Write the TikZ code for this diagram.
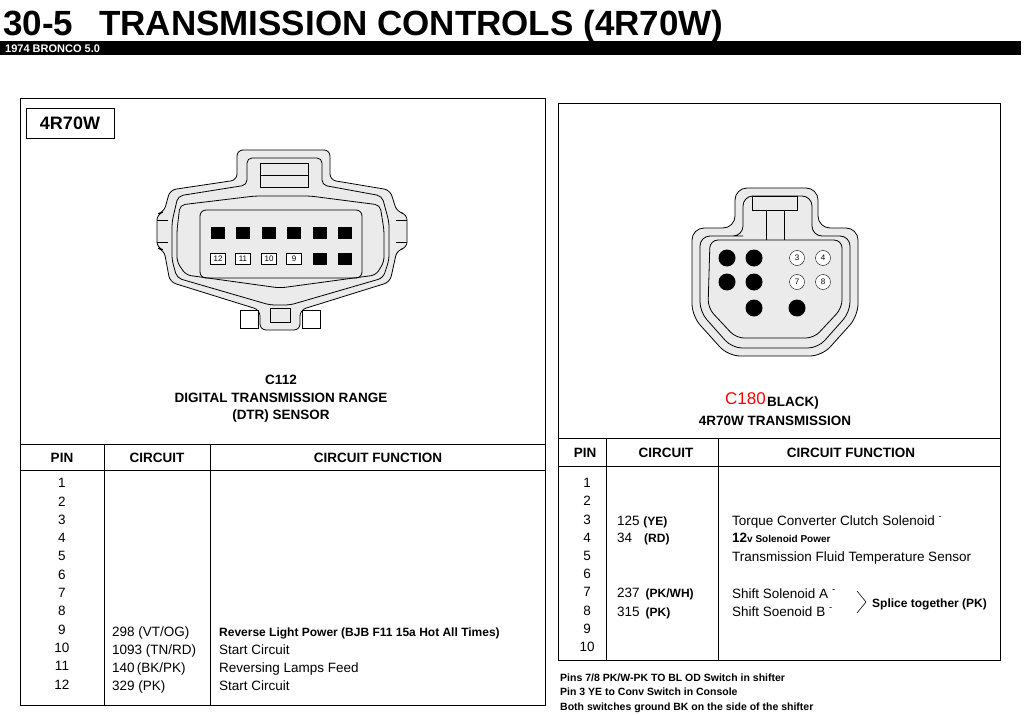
\documentclass[tikz,border=0pt]{standalone}
\usepackage{fontspec}
\setmainfont{Liberation Sans}
\begin{document}
\begin{tikzpicture}[x=1pt,y=-1pt,
  ln/.style={line width=0.8pt},
  body/.style={draw,fill=black!8,line width=0.8pt,rounded corners=6pt},
  sq/.style={fill=black,minimum width=14pt,minimum height=12pt,inner sep=0pt},
  osq/.style={draw,fill=white,minimum width=15pt,minimum height=11pt,inner sep=0pt,font=\fontsize{8}{8}\selectfont},
  dot/.style={circle,fill=black,minimum size=17pt,inner sep=0pt},
  odot/.style={circle,draw,fill=white,minimum size=15pt,inner sep=0pt,font=\fontsize{8}{8}\selectfont},
  tx/.style={font=\fontsize{13.5}{13.5}\selectfont,anchor=base west,inner sep=0pt},
  hd/.style={font=\bfseries\fontsize{13.5}{13.5}\selectfont}]
\useasboundingbox (0,0) rectangle (1024,714);
\fill[white] (0,0) rectangle (1024,714);
% title
\node[anchor=base west,inner sep=0pt,font=\bfseries\fontsize{35}{35}\selectfont] (title) at (3,36) {30-5\hspace{26pt}TRANSMISSION CONTROLS (4R70W)};
\fill (0,41) rectangle (1021,55);
\node[anchor=base west,inner sep=0pt,text=white,font=\bfseries\fontsize{11}{11}\selectfont] (sub) at (5,52.5) {1974 BRONCO 5.0};
% left panel
\draw[ln] (20,98) rectangle (545,705);
\draw[ln] (20,444) -- (545,444) (20,470) -- (545,470);
\draw[ln] (104,444) -- (104,705) (210,444) -- (210,705);
\node[draw,ln,minimum width=88pt,minimum height=30pt,font=\bfseries\fontsize{18}{18}\selectfont] (lbl) at (70,123) {4R70W};
% left connector
\draw[body] (237,180) -- (237,150) -- (330,150) -- (330,180) -- (390,190) -- (397,212) -- (407,214) -- (407,248) -- (397,250) -- (390,282) -- (300,310) -- (300,330) -- (260,330) -- (260,310) -- (170,282) -- (164,250) -- (157,248) -- (157,214) -- (164,212) -- (170,190) -- cycle;
\draw[ln,rounded corners=5pt] (247,185) -- (247,158) -- (322,158) -- (322,185) -- (382,196) -- (389,222) -- (389,260) -- (383,278) -- (290,305) -- (270,305) -- (177,278) -- (172,260) -- (172,222) -- (178,196) -- cycle;
\draw[ln,rounded corners=5pt] (180,205) -- (255,196) -- (310,196) -- (380,205) -- (384,230) -- (384,262) -- (376,275) -- (280,288) -- (186,275) -- (177,262) -- (177,230) -- cycle;
\draw[ln,rounded corners=6pt] (200,210) rectangle (362,278);
\draw[ln] (260,163) rectangle (308,187) (260,175) -- (308,175);
\draw[ln] (240,310) rectangle (258,328) (302,310) rectangle (320,328) (270,308) rectangle (290,322);
\draw[ln] (157,220) -- (168,220) (157,242) -- (168,242) (407,220) -- (396,220) (407,242) -- (396,242);
\foreach \x in {218,243,269,294,320,345} \node[sq] at (\x,233) {};
\node[osq] (p12) at (218,259) {12};
\node[osq] (p11) at (243,259) {11};
\node[osq] (p10) at (269,259) {10};
\node[osq] (p9) at (294,259) {9};
\node[sq] at (320,259) {}; \node[sq] at (345,259) {};
\node[hd] (c112) at (281,380) {C112};
\node[hd] (c112b) at (281,398) {DIGITAL TRANSMISSION RANGE};
\node[hd] (c112c) at (281,416) {(DTR) SENSOR};
\node[hd] (h1) at (62,458) {PIN};
\node[hd] (h2) at (157,458) {CIRCUIT};
\node[hd] (h3) at (378,458) {CIRCUIT FUNCTION};
\foreach \i in {1,...,12} \node[font=\fontsize{13.5}{13.5}\selectfont] at (62,{483+(\i-1)*18.3}) {\i};
\node[tx] at (112,636) {298 (VT/OG)};
\node[tx] at (112,654) {1093 (TN/RD)};
\node[tx] at (112,672) {140\,(BK/PK)};
\node[tx] at (112,690) {329 (PK)};
\node[tx,font=\bfseries\fontsize{12}{12}\selectfont] at (219,636) {Reverse Light Power (BJB F11 15a Hot All Times)};
\node[tx] at (219,654) {Start Circuit};
\node[tx] at (219,672) {Reversing Lamps Feed};
\node[tx] at (219,690) {Start Circuit};
% right panel
\draw[ln] (558,103) rectangle (1000,660);
\draw[ln] (558,438) -- (1000,438) (558,466) -- (1000,466);
\draw[ln] (606,438) -- (606,660) (718,438) -- (718,660);
\draw[body,rounded corners=12pt] (735,228) -- (735,188) -- (818,188) -- (818,228) -- (858,228) -- (858,316) -- (822,356) -- (728,356) -- (692,316) -- (692,228) -- cycle;
\draw[ln,rounded corners=10pt] (733,236) -- (743,236) -- (743,196) -- (812,196) -- (812,236) -- (850,236) -- (850,312) -- (818,348) -- (732,348) -- (700,312) -- (700,236) -- cycle;
\draw[ln,rounded corners=8pt] (710,240) -- (842,240) -- (842,308) -- (814,338) -- (736,338) -- (708,308) -- cycle;
\draw[ln] (752,196) rectangle (797,210) (766,210) -- (766,240) (784,210) -- (784,240);
\node[dot] at (727,258) {}; \node[dot] at (754,258) {};
\node[dot] at (727,282) {}; \node[dot] at (754,282) {};
\node[dot] at (754,308) {}; \node[dot] at (797,308) {};
\node[odot] (r3) at (797,258) {3}; \node[odot] (r4) at (823,258) {4};
\node[odot] (r7) at (797,282) {7}; \node[odot] (r8) at (823,282) {8};
\node[anchor=base west,inner sep=0pt,text=red,font=\fontsize{17}{17}\selectfont] (c180) at (725,404) {C180};
\node[anchor=base west,inner sep=0pt,font=\bfseries\fontsize{13.5}{13.5}\selectfont] (blk) at (767,406) {BLACK)};
\node[hd] (c180b) at (775,421) {4R70W TRANSMISSION};
\node[hd] (rh1) at (585,453) {PIN};
\node[hd] (rh2) at (666,453) {CIRCUIT};
\node[hd] (rh3) at (851,453) {CIRCUIT FUNCTION};
\foreach \i in {1,...,10} \node[font=\fontsize{13.5}{13.5}\selectfont] at (587,{483+(\i-1)*18.2}) {\i};
\node[tx] at (617,525) {125 {\bfseries\fontsize{12}{12}\selectfont(YE)}};
\node[tx] at (617,542) {34\hspace{12pt}{\bfseries\fontsize{12}{12}\selectfont(RD)}};
\node[tx] at (617,597) {237 \,{\bfseries\fontsize{12}{12}\selectfont(PK/WH)}};
\node[tx] at (617,616) {315 \,{\bfseries\fontsize{12}{12}\selectfont(PK)}};
\node[tx] at (732,525) {Torque Converter Clutch Solenoid \textsuperscript{-}};
\node[tx] at (732,542) {\bfseries 12{\fontsize{10}{10}\selectfont v Solenoid Power}};
\node[tx] at (732,561) {Transmission Fluid Temperature Sensor};
\node[tx] at (732,598) {Shift Solenoid A \textsuperscript{-}};
\node[tx] at (732,616) {Shift Soenoid B \textsuperscript{-}};
\coordinate (bA) at (857,591); \coordinate (bM) at (866,602); \coordinate (bB) at (857,613);
\draw[line width=0.6pt] (bA) -- (bM) -- (bB);
\node[tx,font=\bfseries\fontsize{12}{12}\selectfont] (spl) at (872,607) {Splice together (PK)};
\node[anchor=base west,inner sep=0pt,font=\bfseries\fontsize{10.5}{10.5}\selectfont] (n1) at (560,681) {Pins 7/8 PK/W-PK TO BL OD Switch in shifter};
\node[anchor=base west,inner sep=0pt,font=\bfseries\fontsize{10.5}{10.5}\selectfont] (n2) at (560,695) {Pin 3 YE to Conv Switch in Console};
\node[anchor=base west,inner sep=0pt,font=\bfseries\fontsize{10.5}{10.5}\selectfont] (n3) at (560,710) {Both switches ground BK on the side of the shifter};
\end{tikzpicture}
\end{document}
